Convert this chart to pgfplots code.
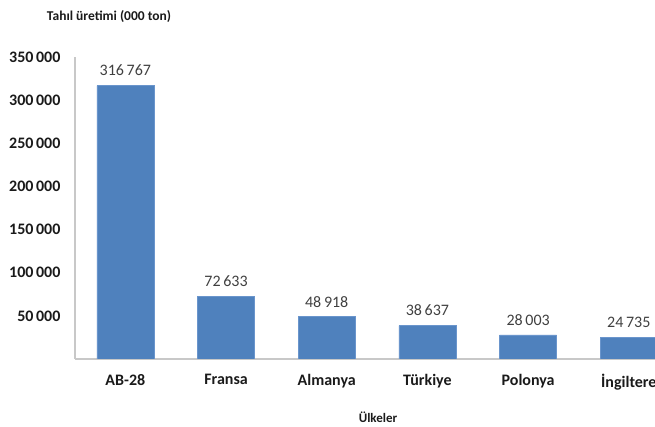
\documentclass[border=0pt]{standalone}
\usepackage{fontspec}
\setmainfont{Carlito}
\usepackage{pgfplots}
\pgfplotsset{compat=1.18}
\definecolor{barblue}{HTML}{4F81BD}
\definecolor{baredge}{HTML}{6A95CC}
\definecolor{axisgray}{HTML}{C8C8C8}
\definecolor{lbl}{HTML}{404040}
\definecolor{tick}{HTML}{1A1A1A}
\begin{document}
\begin{tikzpicture}[x=1pt,y=1pt]
\useasboundingbox (0,0) rectangle (655,427);
\begin{axis}[
  at={(75pt,68pt)}, anchor=south west,
  scale only axis, width=580pt, height=302pt,
  xmin=-0.5, xmax=5.26, ymin=0, ymax=350000,
  clip=true,
  axis x line*=bottom, axis y line*=left,
  x axis line style={-, draw=axisgray, line width=1.2pt},
  y axis line style={-, draw=axisgray, line width=1.2pt},
  major tick length=0pt,
  ytick={50000,100000,150000,200000,250000,300000,350000},
  xtick={0,1,2,3,4,5},
  xticklabels={AB-28,Fransa,Almanya,Türkiye,Polonya,İngiltere},
  scaled y ticks=false,
  /pgf/number format/fixed,
  /pgf/number format/precision=0,
  /pgf/number format/1000 sep={\,},
  /pgf/number format/assume math mode=true,
  yticklabel style={font=\bfseries\fontsize{16}{16}\selectfont, text=tick, xshift=-11pt},
  xticklabel style={font=\bfseries\fontsize{16}{16}\selectfont, text=tick, yshift=-12pt},
  ybar, bar width=0.566,
  nodes near coords,
  nodes near coords style={font=\fontsize{16}{16}\selectfont, text=lbl, yshift=6pt},
]
\addplot[fill=barblue, draw=baredge, line width=0.6pt] coordinates {
  (0,316767) (1,72633) (2,48918) (3,38637) (4,28003) (5,24735)
};
\end{axis}
\node[font=\bfseries\fontsize{13.5}{13.5}\selectfont, text=tick] at (109,410) {Tahıl üretimi (000 ton)};
\node[font=\bfseries\fontsize{13}{13}\selectfont, text=tick] at (378,10) {Ülkeler};
\end{tikzpicture}
\end{document}
